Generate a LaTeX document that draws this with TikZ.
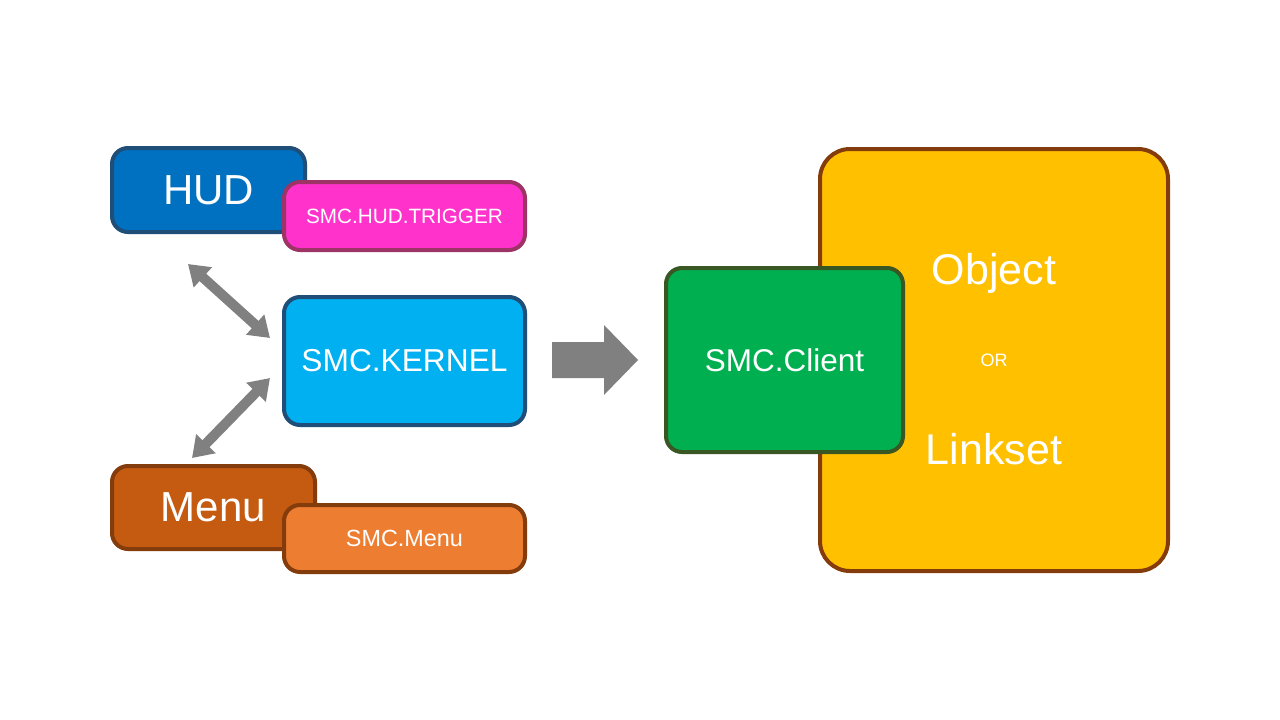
\documentclass[tikz,border=0pt]{standalone}
\usepackage{fontspec}
\setmainfont{Liberation Sans}
\usetikzlibrary{arrows.meta}
\definecolor{hudblue}{HTML}{0070C0}
\definecolor{darkblue}{HTML}{1F4E79}
\definecolor{pinkfill}{HTML}{FF33CC}
\definecolor{pinkedge}{HTML}{9E3465}
\definecolor{cyanfill}{HTML}{00B0F0}
\definecolor{menufill}{HTML}{C55A11}
\definecolor{brownedge}{HTML}{843C0C}
\definecolor{orangefill}{HTML}{ED7D31}
\definecolor{greenfill}{HTML}{00B050}
\definecolor{greenedge}{HTML}{385723}
\definecolor{yellowfill}{HTML}{FFC000}
\definecolor{arrowgray}{HTML}{808080}
\tikzset{
  box/.style={rectangle, rounded corners=16pt, line width=4pt, text=white, inner sep=0pt},
  dblarrow/.style={arrowgray, line width=10pt, {Triangle[length=20pt,width=26pt]}-{Triangle[length=20pt,width=26pt]}, shorten <=0pt, shorten >=0pt}
}
\begin{document}
\begin{tikzpicture}[x=1pt,y=-1pt]
\useasboundingbox (0,0) rectangle (1280,720);
\fill[white] (0,0) rectangle (1280,720);
% right side
\node[box, rounded corners=30pt, draw=brownedge, fill=yellowfill, minimum width=348pt, minimum height=422pt] (obj) at (994,360) {};
\node[text=white, font=\fontsize{43}{50}\selectfont] (objt) at (994,273) {Object};
\node[text=white, font=\fontsize{18}{22}\selectfont] (ort) at (994,360) {OR};
\node[text=white, font=\fontsize{43}{50}\selectfont] (lnk) at (994,449) {Linkset};
\node[box, draw=greenedge, fill=greenfill, minimum width=237pt, minimum height=184pt, font=\fontsize{31.5}{36}\selectfont] (client) at (784.5,360) {SMC.Client};
% left side
\node[box, draw=darkblue, fill=hudblue, minimum width=193pt, minimum height=84pt, font=\fontsize{42}{48}\selectfont] (hud) at (208.5,190) {\raisebox{0pt}{HUD}};
\node[box, draw=pinkedge, fill=pinkfill, minimum width=241pt, minimum height=68pt, font=\fontsize{20.7}{24}\selectfont] (trig) at (404.5,216) {SMC.HUD.TRIGGER};
\node[box, draw=darkblue, fill=cyanfill, minimum width=241pt, minimum height=128pt, font=\fontsize{31.7}{36}\selectfont] (kernel) at (404.5,361) {SMC.KERNEL};
\node[box, draw=brownedge, fill=menufill, minimum width=203pt, minimum height=83pt, font=\fontsize{42}{48}\selectfont] (menu) at (213.5,507.5) {Menu};
\node[box, draw=brownedge, fill=orangefill, minimum width=241pt, minimum height=67pt, font=\fontsize{23.4}{28}\selectfont] (smenu) at (404.5,538.5) {SMC.Menu};
% double arrows
\coordinate (a1) at (188,264);
\coordinate (a2) at (270,338);
\coordinate (b1) at (270,378);
\coordinate (b2) at (192,458);
\draw[dblarrow] (a1) -- (a2);
\draw[dblarrow] (b1) -- (b2);
% big arrow
\coordinate (big) at (552,360);
\fill[arrowgray] (big) ++(0,-18) -- ++(52,0) -- ++(0,-17) -- ++(34,35) -- ++(-34,35) -- ++(0,-17) -- ++(-52,0) -- cycle;
\end{tikzpicture}
\end{document}
